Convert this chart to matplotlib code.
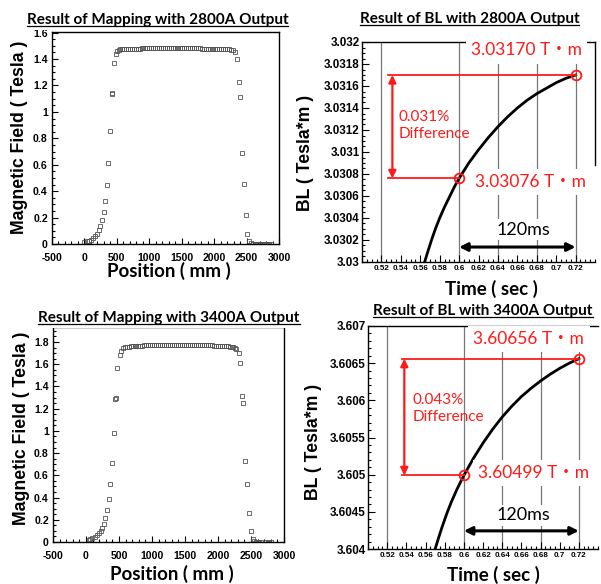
import numpy as np
import matplotlib
matplotlib.use('Agg')
import matplotlib.pyplot as plt
from matplotlib.ticker import MultipleLocator, FixedLocator, FormatStrFormatter
from matplotlib.lines import Line2D

plt.rcParams['axes.unicode_minus'] = False
W, H = 601, 584

# ---- field mapping, 2800 A ----
pos_2800 = [0, 35, 66, 102, 138, 170, 195, 220, 247, 273, 298, 324, 345, 371, 391, 418, 424,
            453, 480, 500, 526,
            550, 580, 610, 640, 670, 700, 730, 760, 790, 820, 850, 880, 910, 940, 970, 1000,
            1030, 1060, 1090, 1120, 1150, 1180, 1210, 1240, 1270, 1300, 1330, 1360, 1390, 1420,
            1450, 1480, 1510, 1540, 1570, 1600, 1630, 1660, 1690, 1720, 1750, 1780, 1810, 1840,
            1870, 1900, 1930, 1960, 1990, 2020, 2050, 2080, 2110, 2140, 2170, 2200, 2230, 2260, 2290,
            2316, 2353, 2378, 2393, 2424, 2455, 2487, 2508, 2539, 2570,
            2600, 2625, 2650, 2675, 2700, 2725, 2750, 2775, 2800, 2825, 2850, 2880]
field_2800 = [0.013, 0.020, 0.025, 0.033, 0.045, 0.060, 0.078, 0.106, 0.139, 0.182, 0.243, 0.326,
              0.447, 0.617, 0.857, 1.133, 1.141, 1.370, 1.440, 1.458, 1.470,
              1.474, 1.476, 1.477, 1.478, 1.478, 1.479, 1.479, 1.480, 1.480, 1.480, 1.480, 1.481,
              1.481, 1.481, 1.481, 1.482, 1.482, 1.482, 1.482, 1.482, 1.482, 1.482, 1.482, 1.482,
              1.482, 1.482, 1.482, 1.482, 1.482, 1.482, 1.482, 1.482, 1.482, 1.482, 1.482, 1.482,
              1.482, 1.481, 1.481, 1.481, 1.481, 1.481, 1.480, 1.480, 1.479, 1.479, 1.478, 1.478,
              1.478, 1.478, 1.477, 1.477, 1.477, 1.476, 1.476, 1.475, 1.474, 1.471, 1.468,
              1.450, 1.400, 1.223, 1.114, 0.692, 0.452, 0.220, 0.076, 0.025, 0.006,
              0.003, 0.002, 0.002, 0.002, 0.001, 0.001, 0.001, 0.001, 0.001, 0.001, 0.001, 0.001]

# ---- field mapping, 3400 A ----
pos_3400 = [42, 68, 94, 129, 165, 194, 220, 245, 270, 295, 321, 345, 371, 397, 421, 445, 449,
            477, 508, 533, 558,
            585, 615, 645, 675, 705, 735, 765, 795, 825, 855, 885, 915, 945, 975, 1005, 1035,
            1065, 1095, 1125, 1155, 1185, 1215, 1245, 1275, 1305, 1335, 1365, 1395, 1425, 1455,
            1485, 1515, 1545, 1575, 1605, 1635, 1665, 1695, 1725, 1755, 1785, 1815, 1845, 1875,
            1905, 1935, 1965, 1995, 2025, 2055, 2085, 2115, 2145, 2175, 2205, 2230, 2252,
            2276, 2311, 2337, 2367, 2383, 2413, 2444, 2474, 2498, 2528, 2550,
            2575, 2600, 2625, 2650, 2730, 2755, 2780, 2800]
field_3400 = [0.020, 0.027, 0.039, 0.048, 0.063, 0.084, 0.100, 0.128, 0.164, 0.218, 0.287, 0.386,
              0.520, 0.710, 0.977, 1.290, 1.298, 1.570, 1.683, 1.722, 1.746,
              1.752, 1.756, 1.759, 1.761, 1.763, 1.764, 1.765, 1.766, 1.767, 1.768, 1.769, 1.770,
              1.771, 1.772, 1.773, 1.774, 1.774, 1.775, 1.775, 1.776, 1.776, 1.776, 1.776, 1.776,
              1.776, 1.776, 1.776, 1.776, 1.776, 1.776, 1.776, 1.776, 1.776, 1.776, 1.776, 1.776,
              1.775, 1.775, 1.774, 1.774, 1.773, 1.772, 1.771, 1.770, 1.769, 1.768, 1.767, 1.766,
              1.765, 1.764, 1.763, 1.762, 1.760, 1.758, 1.755, 1.752, 1.748,
              1.737, 1.700, 1.614, 1.312, 1.247, 0.729, 0.523, 0.260, 0.096, 0.024, 0.008,
              0.003, 0.002, 0.002, 0.002, 0.001, 0.001, 0.001, 0.001]

# ---- integrated field BL vs time ----
t_2800 = [0.5645, 0.568, 0.572, 0.576, 0.580, 0.585, 0.590, 0.595, 0.600, 0.610, 0.620, 0.630,
          0.640, 0.650, 0.660, 0.670, 0.680, 0.690, 0.700, 0.710, 0.720]
bl_2800 = [3.03000, 3.03010, 3.03021, 3.03031, 3.03040, 3.03050, 3.03059, 3.03068, 3.03076,
           3.03090, 3.03102, 3.03113, 3.03123, 3.03132, 3.03140, 3.03147, 3.03153, 3.03158,
           3.03163, 3.03167, 3.03170]
t_3400 = [0.5697, 0.573, 0.577, 0.582, 0.587, 0.593, 0.600, 0.610, 0.620, 0.630, 0.640, 0.650,
          0.660, 0.670, 0.680, 0.690, 0.700, 0.710, 0.720]
bl_3400 = [3.603985, 3.604124, 3.604284, 3.604469, 3.604634, 3.604808, 3.60499, 3.60522,
           3.605425, 3.60561, 3.605775, 3.60592, 3.60605, 3.60616, 3.60626, 3.60635, 3.60643,
           3.60650, 3.60656]

marks_2800 = [(0.600, 3.03076), (0.720, 3.03170)]
marks_3400 = [(0.600, 3.60499), (0.720, 3.60656)]
labels_2800 = ["3.03076 T\u30fbm", "3.03170 T\u30fbm", "0.031%\nDifference"]
labels_3400 = ["3.60499 T\u30fbm", "3.60656 T\u30fbm", "0.043%\nDifference"]
grid_t = [0.52, 0.60, 0.64, 0.68, 0.72]

ARIAL = ['Liberation Sans', 'DejaVu Sans']
SOFT = ['Lato', 'Noto Sans CJK JP', 'DejaVu Sans']
RED = '#ff1a1a'


def box(x0, y0, x1, y1):
    # pixel box -> figure fraction rect
    return [x0 / W, 1 - y1 / H, (x1 - x0) / W, (y1 - y0) / H]


def ftext(x, y, s, **kw):
    return fig.text(x / W, 1 - y / H, s, **kw)


fig = plt.figure(figsize=(W / 100, H / 100), dpi=100)


def style_ticks(ax, fs, maj, mino, pad):
    ax.tick_params(which='both', direction='in', top=False, right=False, width=0.8,
                   labelsize=fs, pad=pad)
    ax.tick_params(which='major', length=maj)
    ax.tick_params(which='minor', length=mino)
    for lab in ax.get_xticklabels() + ax.get_yticklabels():
        lab.set_fontweight('bold')
        lab.set_family(ARIAL)
    for sp in ax.spines.values():
        sp.set_linewidth(1.0)


def mapping_panel(rect, pos, field, ytop, ymax_tick):
    ax = fig.add_axes(rect)
    ax.plot(pos, field, ls='none', marker='s', ms=2.4, mfc='none', mec='#555555', mew=0.6)
    ax.set_xlim(-500, 3000)
    ax.set_ylim(0, ytop)
    ax.xaxis.set_major_locator(MultipleLocator(500))
    ax.xaxis.set_minor_locator(MultipleLocator(100))
    ax.yaxis.set_major_locator(FixedLocator(np.arange(0, ymax_tick + 0.01, 0.2)))
    ax.yaxis.set_minor_locator(MultipleLocator(0.05))
    ax.yaxis.set_major_formatter(FormatStrFormatter('%g'))
    style_ticks(ax, 7.6, 4, 2, 3)
    ax.tick_params(axis='x', pad=6.5)
    return ax


def bl_panel(rect, t, bl, ylim, ymaj, ymin_, marks, labels, lab_pos, txt_pos, arrow_x, line_x0,
             ms_pos, spine_frac):
    ax = fig.add_axes(rect)
    ax.set_xlim(0.5, 0.74)
    ax.set_ylim(*ylim)
    for g in grid_t:
        ax.axvline(g, color='#777777', lw=0.9, zorder=1)
    ax.plot(t, bl, color='black', lw=2.0, zorder=2)
    (t0, b0), (t1, b1) = marks
    ax.plot([line_x0, t1], [b1, b1], color=RED, lw=1.3, zorder=2.2)
    ax.plot([line_x0, t0], [b0, b0], color=RED, lw=1.3, zorder=2.2)
    ax.plot([t0, t1], [b0, b1], ls='none', marker='o', ms=7, mfc='none', mec=RED, mew=1.3,
            zorder=2.3)
    ax.annotate('', xy=(arrow_x, b1), xytext=(arrow_x, b0),
                arrowprops=dict(arrowstyle='<|-|>', color=RED, lw=1.6,
                                mutation_scale=11, shrinkA=0, shrinkB=0), zorder=2.2)
    ax.annotate('', xy=(t1, ms_pos[2]), xytext=(t0, ms_pos[2]),
                arrowprops=dict(arrowstyle='<|-|>', color='black', lw=2.2,
                                mutation_scale=12, shrinkA=0, shrinkB=0), zorder=2.2)
    bb = dict(boxstyle='square,pad=0.3', facecolor='white', edgecolor='none')
    ax.text(lab_pos[0][0], lab_pos[0][1], labels[0], color=RED, fontsize=12.5, family=SOFT,
            ha='center', va='center', bbox=bb, zorder=3, clip_on=False)
    ax.text(lab_pos[1][0], lab_pos[1][1], labels[1], color=RED, fontsize=12.5, family=SOFT,
            ha='center', va='center', bbox=bb, zorder=3, clip_on=False)
    ax.text(txt_pos[0], txt_pos[1], labels[2], color=RED, fontsize=11, family=SOFT,
            ha='left', va='center', linespacing=1.25, zorder=3)
    ax.text(ms_pos[0], ms_pos[1], '120ms', color='black', fontsize=13, family=SOFT,
            ha='center', va='center', bbox=dict(boxstyle='square,pad=0.15', facecolor='white',
                                                edgecolor='none'), zorder=3)
    ax.xaxis.set_major_locator(FixedLocator(np.arange(0.52, 0.7201, 0.02)))
    ax.xaxis.set_minor_locator(MultipleLocator(0.005))
    ax.xaxis.set_major_formatter(FormatStrFormatter('%g'))
    ax.yaxis.set_major_locator(MultipleLocator(ymaj))
    ax.yaxis.set_minor_locator(MultipleLocator(ymin_))
    ax.yaxis.set_major_formatter(FormatStrFormatter('%g'))
    style_ticks(ax, 8.4, 5, 2.5, 1.5)
    ax.tick_params(axis='x', labelsize=5.8, pad=2.5)
    ax.spines['right'].set_visible(False)
    if spine_frac is not None:
        ax.axvline(0.74, ymin=spine_frac, ymax=1, color='black', lw=1.0, clip_on=False)
    return ax


mapping_panel(box(52, 32, 279, 244), pos_2800, field_2800, 1.605, 1.6)
mapping_panel(box(53, 327, 284, 542), pos_3400, field_3400, 1.935, 1.8)

bl_panel(box(362, 42, 595, 262), t_2800, bl_2800, (3.030, 3.032), 0.0002, 0.00005,
         marks_2800, labels_2800, [(0.6732, 3.030727), (0.6696, 3.031924)],
         (0.5378, 3.031242), 0.5313, 0.5269, (0.6658, 3.030294, 3.030136), 0.44)
bl_panel(box(368, 326, 598, 549), t_3400, bl_3400, (3.604, 3.607), 0.0005, 0.0001,
         marks_3400, labels_3400, [(0.673, 3.605022), (0.6679, 3.606822)],
         (0.5466, 3.605895), 0.5379, 0.5351, (0.6618, 3.604453, 3.604244), None)

# titles (underlined)
titles = [(157.5, 24, "Result of Mapping with 2800A Output"),
          (469.5, 23, "Result of BL with 2800A Output"),
          (169, 322, "Result of Mapping with 3400A Output"),
          (483, 315, "Result of BL with 3400A Output")]
tobjs = []
for x, y, s in titles:
    tobjs.append(ftext(x, y, s, fontsize=11, fontweight='bold', family=SOFT,
                       ha='center', va='baseline',
                       bbox=dict(boxstyle='square,pad=0.2', facecolor='white', edgecolor='none')))

# axis labels
ftext(20, 137, "Magnetic Field ( Tesla )", rotation=90, fontsize=12.7, fontweight='bold',
      family=ARIAL, ha='center', va='center')
ftext(22, 428, "Magnetic Field ( Tesla )", rotation=90, fontsize=12.7, fontweight='bold',
      family=ARIAL, ha='center', va='center')
ftext(306, 153, "BL ( Tesla*m )", rotation=90, fontsize=12.7, fontweight='bold',
      family=ARIAL, ha='center', va='center')
ftext(313, 442, "BL ( Tesla*m )", rotation=90, fontsize=12.7, fontweight='bold',
      family=ARIAL, ha='center', va='center')
ftext(169, 271, "Position ( mm )", fontsize=13.5, fontweight='bold', family=SOFT,
      ha='center', va='center')
ftext(172, 574, "Position ( mm )", fontsize=13.5, fontweight='bold', family=SOFT,
      ha='center', va='center')
ftext(491.5, 288.5, "Time ( sec )", fontsize=13.5, fontweight='bold', family=SOFT,
      ha='center', va='center', zorder=0)
ftext(493.5, 575, "Time ( sec )", fontsize=13.5, fontweight='bold', family=SOFT,
      ha='center', va='center')

fig.canvas.draw()
r = fig.canvas.get_renderer()
for t in tobjs:
    bb = t.get_window_extent(r)
    x0, x1 = bb.x0 / W, bb.x1 / W
    _, yb = fig.transFigure.inverted().transform(t.get_transform().transform(t.get_position()))
    yb -= 2.0 / H
    fig.add_artist(Line2D([x0, x1], [yb, yb], transform=fig.transFigure, color='black',
                          lw=0.9, zorder=10))

fig.savefig('out.png', dpi=100)
